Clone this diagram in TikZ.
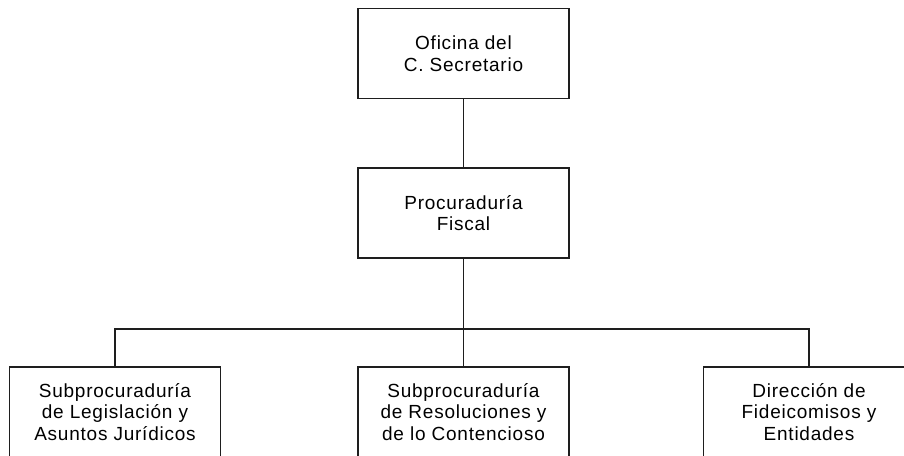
\documentclass[tikz,border=0pt]{standalone}
\usepackage{fontspec}
\setmainfont{Liberation Sans}[LetterSpace=4]
\usetikzlibrary{positioning}
\definecolor{orgink}{HTML}{1E1E1E}
\tikzset{
  orgbox/.style={draw=orgink,line width=1.3pt,fill=white,minimum width=211pt,
    minimum height=90pt,inner sep=0pt,align=center,
    font=\fontsize{19}{21.7}\selectfont},
  orgline/.style={draw=orgink,line width=1.3pt},
}
\begin{document}
\begin{tikzpicture}[x=1pt,y=-1pt]
  \path[use as bounding box] (0,0) rectangle (904,455);
  \clip (0,0) rectangle (904,455);
  \node[orgbox] (secretario) at (463.5,53.5) {Oficina del\\C. Secretario};
  \node[orgbox] (procuraduria) at (463.5,213) {Procuraduría\\Fiscal};
  \foreach \n/\x/\t in {sub1/115/{Subprocuraduría\\de Legislación y\\Asuntos Jurídicos},
                        sub2/463.5/{Subprocuraduría\\de Resoluciones y\\de lo Contencioso},
                        sub3/809/{Dirección de\\Fideicomisos y\\Entidades}}
    {\node[orgbox] (\n) at (\x,412) {\t};}
  \coordinate (bus) at (463.5,329);
  \draw[orgline] (secretario) -- (procuraduria);
  \draw[orgline] (procuraduria) -- (bus);
  \draw[orgline] (sub1.north) |- (bus) -| (sub3.north);
  \draw[orgline] (bus) -- (sub2.north);
\end{tikzpicture}
\end{document}
